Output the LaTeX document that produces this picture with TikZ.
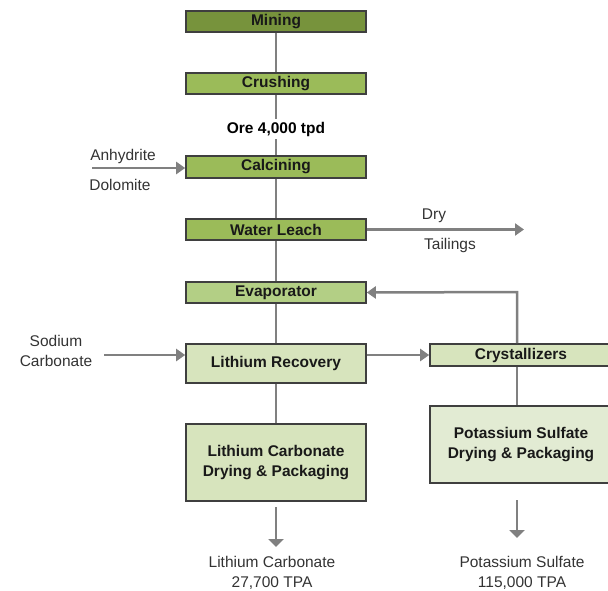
\documentclass[tikz,border=0pt]{standalone}
\usepackage{fontspec}
\setmainfont{Liberation Sans}
\usetikzlibrary{arrows.meta}

\definecolor{minegreen}{HTML}{77933C}
\definecolor{midgreen}{HTML}{9BBB59}
\definecolor{evapgreen}{HTML}{B3CF85}
\definecolor{palegreen}{HTML}{D7E4BD}
\definecolor{paler}{HTML}{E2EBD3}
\definecolor{boxedge}{HTML}{3F3F3F}
\definecolor{flowgray}{HTML}{808080}
\definecolor{labelgray}{HTML}{333333}

\begin{document}
\begin{tikzpicture}[x=1pt,y=-1pt,
  box/.style={draw=boxedge,line width=1.6pt,inner sep=0pt,minimum width=180pt,
    minimum height=21pt,align=center,text=black!90,
    font=\bfseries\fontsize{15.5}{19.5}\selectfont},
  flow/.style={draw=flowgray,line width=2.5pt},
  feed/.style={flow,-{Triangle[length=9pt,width=12pt]}},
  outfeed/.style={flow,-{Triangle[length=8pt,width=15pt]}},
  lbl/.style={inner sep=0pt,align=center,text=labelgray,
    font=\fontsize{15.5}{19.5}\selectfont}]
\useasboundingbox (0,0) rectangle (608,590);

% main column
\node[box,fill=minegreen] (mine) at (276,21.5) {Mining};
\node[box,fill=midgreen] (crush) at (276,83.5) {Crushing};
\node[inner sep=3pt,font=\bfseries\fontsize{15.5}{19.5}\selectfont] (ore) at (276,129) {Ore 4,000 tpd};
\node[box,fill=midgreen,minimum height=22pt] (calc) at (276,167) {Calcining};
\node[box,fill=midgreen] (leach) at (276,229.5) {Water Leach};
\node[box,fill=evapgreen] (evap) at (276,292.5) {Evaporator};
\node[box,fill=palegreen,minimum height=39pt] (lirec) at (276,363.5) {Lithium Recovery};
\node[box,fill=palegreen,minimum height=77pt] (lipack) at (276,462.5) {Lithium Carbonate\\Drying \& Packaging};

% right column
\node[box,fill=palegreen,minimum width=182pt,minimum height=22pt] (cryst) at (521,355) {Crystallizers};
\node[box,fill=paler,minimum width=182pt,minimum height=77pt] (kpack) at (521,444.5) {Potassium Sulfate\\Drying \& Packaging};

% side labels
\node[lbl] (anhy) at (123,156) {Anhydrite};
\node[lbl] (dolo) at (120,185) {Dolomite};
\node[lbl] (dry) at (434,216) {Dry};
\node[lbl] (tail) at (450,245) {Tailings};
\node[lbl] (soda) at (56,351) {Sodium\\Carbonate};
\node[lbl] (liprod) at (272,573) {Lithium Carbonate\\27,700 TPA};
\node[lbl] (kprod) at (522,573) {Potassium Sulfate\\115,000 TPA};

\coordinate (anin) at (92,168);
\coordinate (tailout) at (524,230);
\coordinate (naIn) at (104,355);
\coordinate (fb) at (517,292);
\coordinate (liout) at (276,507);
\coordinate (liend) at (276,547);
\coordinate (kout) at (517,500);
\coordinate (kend) at (517,538);

\draw[flow] (mine) -- (crush);
\draw[flow] (crush) -- (ore);
\draw[flow] (ore) -- (calc);
\draw[flow] (calc) -- (leach);
\draw[flow] (leach) -- (evap);
\draw[flow] (evap) -- (lirec);
\draw[flow] (lirec) -- (lipack);
\draw[flow] (cryst.south -| fb) -- (kpack.north -| fb);

\draw[feed] (anin) -- (anin -| calc.west);
\draw[feed] (leach.east) -- (leach.east -| tailout);
\draw[feed] (naIn) -- (naIn -| lirec.west);
\draw[feed] (naIn -| lirec.east) -- (naIn -| cryst.west);
\draw[feed] (cryst.north -| fb) -- (fb) -- (evap.east);
\draw[outfeed] (liout) -- (liend);
\draw[outfeed] (kout) -- (kend);
\end{tikzpicture}
\end{document}
